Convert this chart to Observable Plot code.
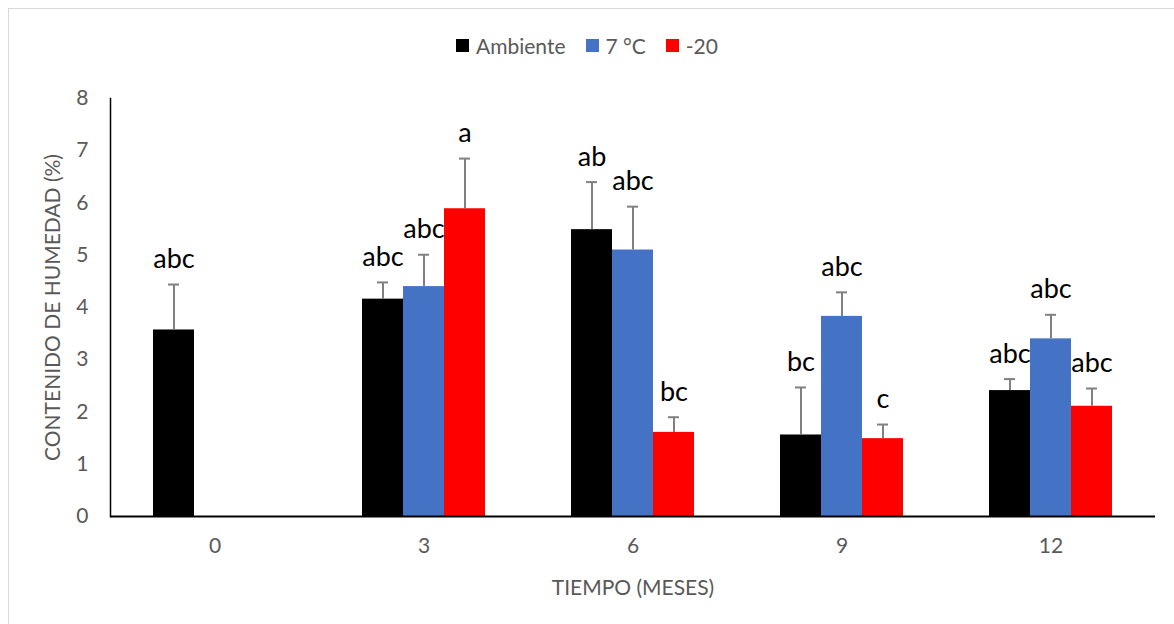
<!DOCTYPE html>
<html>
<head>
<meta charset="utf-8">
<script src="https://cdn.jsdelivr.net/npm/d3@7"></script>
<script src="https://cdn.jsdelivr.net/npm/@observablehq/plot@0.6"></script>
<style>
  body { margin: 0; background: #fff; font-family: Lato, "Open Sans", sans-serif; }
  #wrap { position: relative; width: 1174px; height: 624px; overflow: hidden; background: #fff; }
  #border { position: absolute; left: 8px; top: 8px; width: 1180px; height: 640px; border: 1px solid #d9d9d9; box-sizing: border-box; }
  #legend { position: absolute; top: 33px; left: 0; width: 1174px; display: flex; justify-content: center; align-items: center; gap: 20px; font-size: 21px; color: #595959; }
  #legend .item { display: flex; align-items: center; gap: 7px; }
  #legend .sw { width: 13px; height: 13px; display: inline-block; }
  #chart { position: absolute; left: 0; top: 0; }
</style>
</head>
<body>
<div id="wrap">
  <div id="border"></div>
  <div id="chart"></div>
  <div id="legend"></div>
</div>
<script>
// ---- data ----
const times = ["0", "3", "6", "9", "12"];
const series = ["Ambiente", "7 °C", "-20"];
const seriesColors = ["#000000", "#4472C4", "#FF0000"];

const ambiente    = [3.57, 4.16, 5.49, 1.56, 2.41];
const ambienteErr = [0.87, 0.32, 0.91, 0.91, 0.22];
const ambienteLbl = ["abc", "abc", "ab", "bc", "abc"];

const siete    = [null, 4.40, 5.10, 3.83, 3.40];
const sieteErr = [null, 0.61, 0.83, 0.46, 0.46];
const sieteLbl = [null, "abc", "abc", "abc", "abc"];

const menos20    = [null, 5.89, 1.61, 1.49, 2.11];
const menos20Err = [null, 0.96, 0.29, 0.27, 0.34];
const menos20Lbl = [null, "a", "bc", "c", "abc"];

const yTicks = [0, 1, 2, 3, 4, 5, 6, 7, 8];

// ---- table ----
const seriesData = [
  [ambiente, ambienteErr, ambienteLbl],
  [siete, sieteErr, sieteLbl],
  [menos20, menos20Err, menos20Lbl]
];
const rows = [];
times.forEach((t, i) => {
  seriesData.forEach(([vals, errs, lbls], j) => {
    if (vals[i] != null) rows.push({t, s: series[j], v: vals[i], e: errs[i], top: vals[i] + errs[i], l: lbls[i]});
  });
});

const chart = Plot.plot({
  width: 1174,
  height: 624,
  marginLeft: 110,
  marginRight: 19,
  marginTop: 98,
  marginBottom: 108,
  style: {fontFamily: "Lato, 'Open Sans', sans-serif", fontSize: "21px", color: "#595959", background: "none"},
  fx: {domain: times, padding: 0},
  x: {domain: series, paddingInner: 0, paddingOuter: 1, axis: null},
  y: {domain: [0, 8]},
  color: {domain: series, range: seriesColors},
  marks: [
    Plot.axisFx({anchor: "bottom", tickSize: 0, tickPadding: 22, label: "TIEMPO (MESES)", labelAnchor: "center", labelOffset: 78, labelArrow: "none", fill: "#595959"}),
    Plot.axisY({ticks: yTicks, tickSize: 0, tickPadding: 22, label: "CONTENIDO DE HUMEDAD (%)", labelAnchor: "center", labelOffset: 65, labelArrow: "none", fill: "#595959"}),
    Plot.barY(rows, {fx: "t", x: "s", y: "v", fill: "s"}),
    Plot.ruleX(rows, {fx: "t", x: "s", y1: "v", y2: "top", stroke: "#808080", strokeWidth: 2}),
    Plot.tickY(rows, {fx: "t", x: "s", y: "top", stroke: "#808080", strokeWidth: 2, insetLeft: 15, insetRight: 15}),
    Plot.text(rows, {fx: "t", x: "s", y: "top", text: "l", dy: -25, fontSize: 27, fill: "#000"}),
    Plot.ruleY([0], {stroke: "#000", strokeWidth: 2}),
    Plot.frame({anchor: "left", facetAnchor: "left", stroke: "#000", strokeWidth: 1.5})
  ]
});
document.getElementById("chart").appendChild(chart);

// ---- legend ----
const legend = document.getElementById("legend");
series.forEach((s, i) => {
  const item = document.createElement("div");
  item.className = "item";
  const sw = document.createElement("span");
  sw.className = "sw";
  sw.style.background = seriesColors[i];
  const txt = document.createElement("span");
  txt.textContent = s;
  item.appendChild(sw);
  item.appendChild(txt);
  legend.appendChild(item);
});
</script>
</body>
</html>
